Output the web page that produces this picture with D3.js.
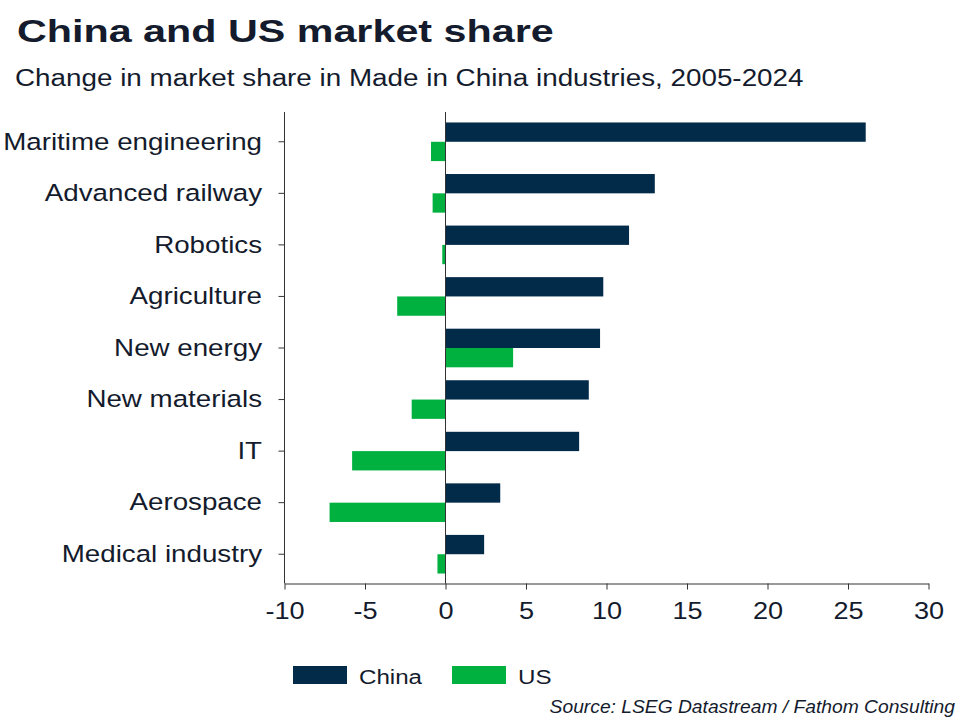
<!DOCTYPE html>
<html>
<head>
<meta charset="utf-8">
<script src="https://cdn.jsdelivr.net/npm/d3@7"></script>
<style>
    body { margin: 0; background: #ffffff; }
    text { font-family: "Liberation Sans", Arial, sans-serif; }
</style>
</head>
<body>
<div id="canvas"></div>
<script>
"use strict"

/* Data: change in market share, 2005-2024 (pp) */
let categories = ["Maritime engineering", "Advanced railway", "Robotics", "Agriculture",
    "New energy", "New materials", "IT", "Aerospace", "Medical industry"];
let chinaValues = [26.1, 13.0, 11.4, 9.8, 9.6, 8.9, 8.3, 3.4, 2.4];
let usValues = [-0.9, -0.8, -0.2, -3.0, 4.2, -2.1, -5.8, -7.2, -0.5];
let seriesNames = ["China", "US"];
let xTicks = [-10, -5, 0, 5, 10, 15, 20, 25, 30];

/* Drawing config */
let svgWidth = 960;
let svgHeight = 720;
let plotLeft = 284.5;
let plotRight = 928.5;
let plotTop = 116;
let plotBottom = 580;
let axisY = 583.5;
let textColor = "#141b2d";
let axisColor = "#333333";
let colors = { China: "#022b4a", US: "#00b140" };

/* the original text looks a bit wide, so texts get a horizontal stretch */
function place(sel, x, y, sx) {
    sel.attr("transform", `translate(${x},${y}) scale(${sx},1)`);
    return sel;
}

let svg = d3.select("#canvas")
    .append("svg")
    .attr("width", svgWidth)
    .attr("height", svgHeight);

/* titles */
place(svg.append("text"), 17, 42, 1.29)
    .attr("font-size", 32)
    .attr("font-weight", "bold")
    .attr("fill", textColor)
    .text("China and US market share");

place(svg.append("text"), 15, 86, 1.15)
    .attr("font-size", 24.2)
    .attr("fill", textColor)
    .text("Change in market share in Made in China industries, 2005-2024");

/* scales */
let xScale = d3.scaleLinear()
    .domain([-10, 30])
    .range([plotLeft, plotRight]);

let yScale = d3.scaleBand()
    .domain(categories)
    .range([plotTop, plotBottom])
    .padding(0);

let subScale = d3.scaleBand()
    .domain(seriesNames)
    .range([0, yScale.bandwidth()])
    .paddingInner(0)
    .paddingOuter(0.335);

let rows = categories.map(function (c, i) {
    return { category: c, China: chinaValues[i], US: usValues[i] };
});

/* bars */
let groups = svg.selectAll("g.row")
    .data(rows)
    .join("g")
    .attr("class", "row")
    .attr("transform", function (d) {
        return "translate(0," + yScale(d.category) + ")";
    });

groups.selectAll("rect")
    .data(function (d) {
        return seriesNames.map(function (s) { return { series: s, value: d[s] }; });
    })
    .join("rect")
    .attr("x", function (d) { return xScale(Math.min(0, d.value)); })
    .attr("width", function (d) { return Math.abs(xScale(d.value) - xScale(0)); })
    .attr("y", function (d) { return subScale(d.series); })
    .attr("height", subScale.bandwidth())
    .attr("fill", function (d) { return colors[d.series]; });

/* zero line */
svg.append("line")
    .attr("x1", xScale(0))
    .attr("x2", xScale(0))
    .attr("y1", 112)
    .attr("y2", axisY)
    .attr("stroke", axisColor)
    .attr("stroke-width", 1);

/* y axis */
let yAxis = svg.append("g")
    .attr("transform", `translate(${plotLeft},0)`)
    .call(d3.axisLeft(yScale).tickSize(6).tickSizeOuter(0));

yAxis.select(".domain").remove();
yAxis.selectAll(".tick line").attr("stroke", axisColor);
yAxis.selectAll(".tick text")
    .attr("x", -22.5 / 1.18)
    .attr("dy", "0.33em")
    .attr("transform", "scale(1.18,1)")
    .attr("font-size", 23.5)
    .attr("font-family", "Liberation Sans, Arial, sans-serif")
    .attr("fill", textColor);

svg.append("line")
    .attr("x1", plotLeft)
    .attr("x2", plotLeft)
    .attr("y1", 112)
    .attr("y2", axisY)
    .attr("stroke", axisColor);

/* x axis, plain hyphen for negatives like the original */
let xAxis = svg.append("g")
    .attr("transform", `translate(0,${axisY})`)
    .call(d3.axisBottom(xScale)
        .tickValues(xTicks)
        .tickFormat(function (d) { return String(d); })
        .tickSize(6)
        .tickSizeOuter(0)
        .tickPadding(12));

xAxis.select(".domain").attr("stroke", axisColor);
xAxis.selectAll(".tick line").attr("stroke", axisColor);
xAxis.selectAll(".tick text")
    .attr("transform", "scale(1.13,1)")
    .attr("font-size", 24)
    .attr("font-family", "Liberation Sans, Arial, sans-serif")
    .attr("fill", textColor);

/* legend */
let legendX = [293, 452];
for (let i = 0; i < seriesNames.length; i++) {
    svg.append("rect")
        .attr("x", legendX[i])
        .attr("y", 666)
        .attr("width", 54)
        .attr("height", 18)
        .attr("fill", colors[seriesNames[i]]);

    place(svg.append("text"), legendX[i] + 66, 684, 1.15)
        .attr("font-size", 21)
        .attr("fill", textColor)
        .text(seriesNames[i]);
}

/* source */
place(svg.append("text"), 955, 713, 1.07)
    .attr("font-size", 18)
    .attr("font-style", "italic")
    .attr("text-anchor", "end")
    .attr("fill", textColor)
    .text("Source: LSEG Datastream / Fathom Consulting");
</script>
</body>
</html>
